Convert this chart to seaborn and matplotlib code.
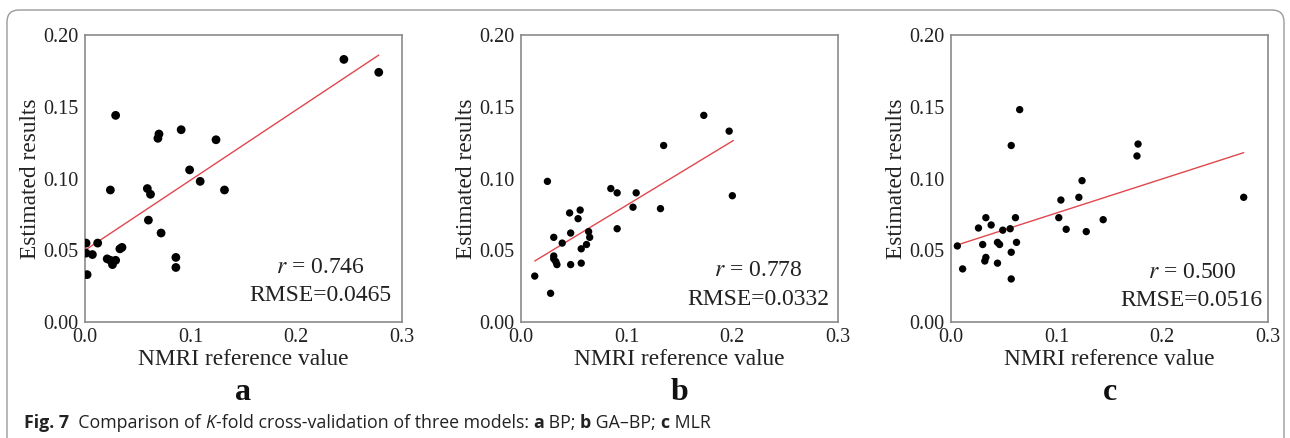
import matplotlib
matplotlib.use("Agg")
import matplotlib.pyplot as plt
import seaborn as sns
import pandas as pd
from matplotlib.patches import FancyBboxPatch

# panel a: BP
a_x = [0.245, 0.278, 0.029, 0.091, 0.070, 0.069, 0.124, 0.099, 0.109, 0.132,
       0.024, 0.059, 0.062, 0.060, 0.072, 0.012, 0.001, 0.035, 0.033, 0.001,
       0.007, 0.021, 0.024, 0.029, 0.026, 0.086, 0.086, 0.002]
a_y = [0.183, 0.174, 0.144, 0.134, 0.131, 0.128, 0.127, 0.106, 0.098, 0.092,
       0.092, 0.093, 0.089, 0.071, 0.062, 0.055, 0.055, 0.052, 0.051, 0.048,
       0.047, 0.044, 0.043, 0.043, 0.040, 0.045, 0.038, 0.033]
a_fit_x = [0.0, 0.278]
a_fit_y = [0.050, 0.186]

# panel b: GA-BP
b_x = [0.013, 0.028, 0.025, 0.031, 0.031, 0.031, 0.033, 0.034, 0.039, 0.046,
       0.047, 0.047, 0.054, 0.056, 0.057, 0.057, 0.062, 0.064, 0.065, 0.085,
       0.091, 0.091, 0.106, 0.109, 0.132, 0.135, 0.173, 0.197, 0.200]
b_y = [0.032, 0.020, 0.098, 0.059, 0.046, 0.044, 0.042, 0.040, 0.055, 0.076,
       0.062, 0.040, 0.072, 0.078, 0.051, 0.041, 0.054, 0.063, 0.059, 0.093,
       0.090, 0.065, 0.080, 0.090, 0.079, 0.123, 0.144, 0.133, 0.088]
b_fit_x = [0.013, 0.201]
b_fit_y = [0.0425, 0.1265]

# panel c: MLR
c_x = [0.006, 0.011, 0.026, 0.033, 0.030, 0.038, 0.033, 0.032, 0.044, 0.046,
       0.044, 0.049, 0.056, 0.057, 0.057, 0.057, 0.065, 0.061, 0.062, 0.102,
       0.104, 0.109, 0.121, 0.124, 0.128, 0.144, 0.176, 0.177, 0.277]
c_y = [0.053, 0.037, 0.0655, 0.0727, 0.054, 0.0676, 0.045, 0.0425, 0.0555, 0.054,
       0.041, 0.064, 0.065, 0.0486, 0.030, 0.123, 0.148, 0.0727, 0.0555, 0.0727,
       0.085, 0.0646, 0.0869, 0.0985, 0.063, 0.0713, 0.1157, 0.124, 0.0869]
c_fit_x = [0.006, 0.277]
c_fit_y = [0.0537, 0.118]

stats_r = ["0.746", "0.778", "0.500"]
stats_rmse = ["0.0465", "0.0332", "0.0516"]
letters = ["a", "b", "c"]

sns.set_theme(style="white")
plt.rcParams["font.family"] = ["Liberation Serif", "DejaVu Serif"]
plt.rcParams["mathtext.fontset"] = "stix"

fig = plt.figure(figsize=(12.9, 4.38), dpi=100)
W, H = 1290, 438
spine_col = "#8a8a8a"

# overlay axes for the frame and caption
over = fig.add_axes([0, 0, 1, 1])
over.set_xlim(0, W)
over.set_ylim(H, 0)
over.axis("off")
frame = FancyBboxPatch((7, 10), 1277, 460, boxstyle="round,pad=0,rounding_size=12",
                       fill=False, edgecolor="#9a9a9a", lw=1.0, clip_on=False)
over.add_patch(frame)

panels = [
    (a_x, a_y, a_fit_x, a_fit_y, 85, 40),
    (b_x, b_y, b_fit_x, b_fit_y, 521, 28),
    (c_x, c_y, c_fit_x, c_fit_y, 951, 28),
]
text_pos = [(0.744, 0.19, 0.094), (0.748, 0.18, 0.077), (0.76, 0.174, 0.074)]

for i, (xs, ys, fx, fy, left, size) in enumerate(panels):
    ax = fig.add_axes([left / W, (H - 322) / H, 317 / W, 287 / H])
    df = pd.DataFrame({"x": xs, "y": ys})
    sns.scatterplot(data=df, x="x", y="y", ax=ax, color="black", s=size,
                    edgecolor="none", zorder=3)
    fit = pd.DataFrame({"x": fx, "y": fy})
    sns.lineplot(data=fit, x="x", y="y", ax=ax, color="#e0474f", lw=1.0,
                 zorder=2)
    ax.set_xlim(0, 0.3)
    ax.set_ylim(0, 0.2)
    ax.set_xticks([0.0, 0.1, 0.2, 0.3])
    ax.set_xticklabels(["0.0", "0.1", "0.2", "0.3"])
    ax.set_yticks([0.0, 0.05, 0.10, 0.15, 0.20])
    ax.set_yticklabels(["0.00", "0.05", "0.10", "0.15", "0.20"])
    ax.tick_params(axis="x", direction="in", length=3, width=0.8,
                   color=spine_col, labelsize=14.5, pad=4, labelcolor="#222")
    ax.tick_params(axis="y", direction="out", length=3, width=0.8,
                   color=spine_col, labelsize=14.5, pad=2, labelcolor="#222")
    for s in ax.spines.values():
        s.set_color(spine_col)
        s.set_linewidth(1.2)
    ax.set_xlabel("NMRI reference value", fontsize=16.8, color="#222", labelpad=2)
    ax.set_ylabel("Estimated results", fontsize=16.8, color="#222", labelpad=1)
    tx, ty1, ty2 = text_pos[i]
    ax.text(tx, ty1, "$r$ = " + stats_r[i], transform=ax.transAxes,
            ha="center", va="center", fontsize=17, color="#222")
    ax.text(tx, ty2, "RMSE=" + stats_rmse[i], transform=ax.transAxes,
            ha="center", va="center", fontsize=17, color="#222")
    over.text(left + 317 / 2, 392, letters[i], ha="center", va="center",
              fontsize=23, fontweight="bold", color="#111")

# caption, written piece by piece
cap = [("Fig. 7", "bold", "normal"), ("  Comparison of ", "normal", "normal"),
       ("K", "normal", "italic"),
       ("-fold cross-validation of three models: ", "normal", "normal"),
       ("a", "bold", "normal"), (" BP; ", "normal", "normal"),
       ("b", "bold", "normal"), (" GA\u2013BP; ", "normal", "normal"),
       ("c", "bold", "normal"), (" MLR", "normal", "normal")]
prev = None
for txt, wt, st in cap:
    kw = dict(fontsize=12.8, fontweight=wt, fontstyle=st, color="#222",
              family=["Open Sans", "DejaVu Sans"], va="bottom", ha="left")
    if prev is None:
        prev = over.text(24, 432, txt, **kw)
    else:
        prev = over.annotate(txt, xy=(1, 0), xycoords=prev, **kw)

fig.savefig("out.png", dpi=100)
